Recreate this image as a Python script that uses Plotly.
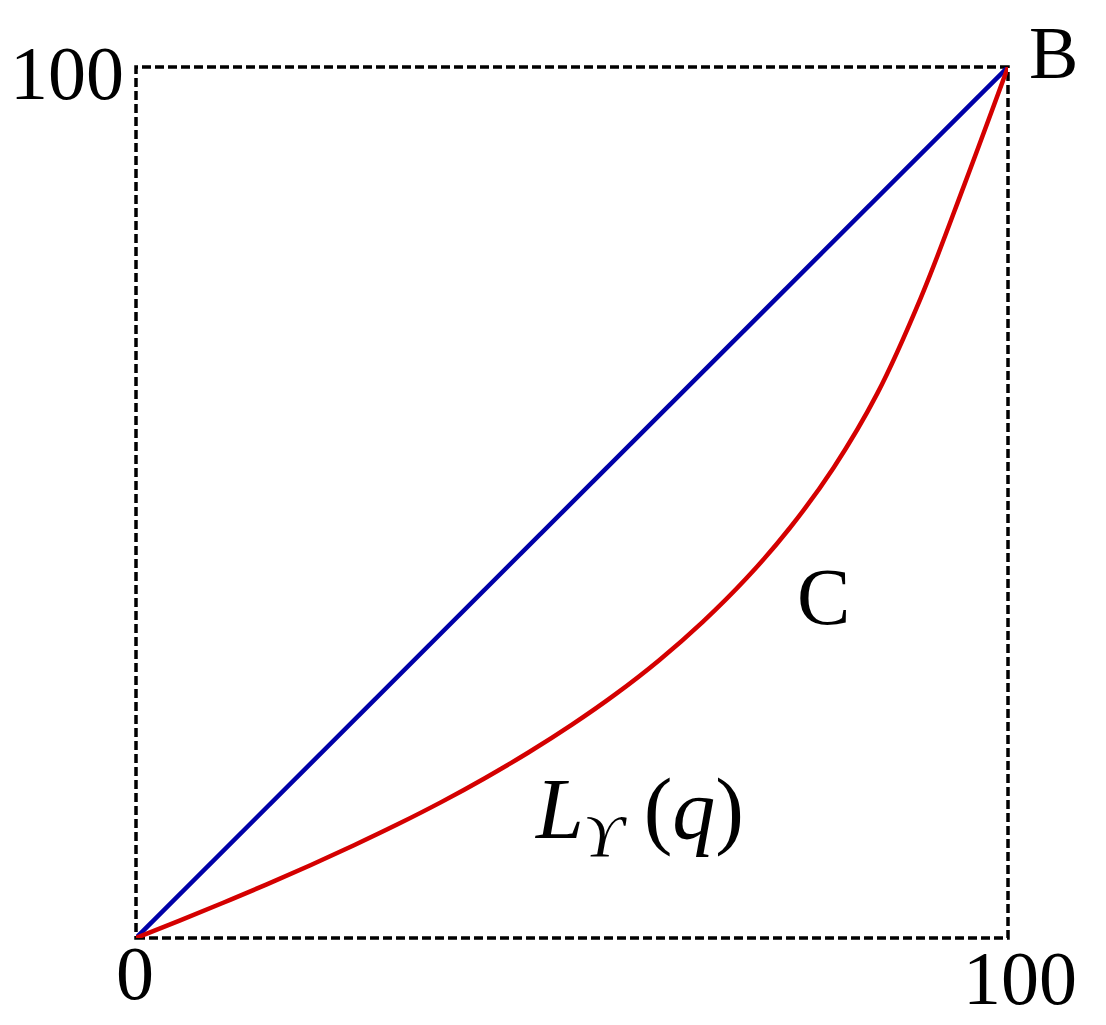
import plotly.graph_objects as go

# Data (percent of population q, cumulative share L_Y(q))
equality_q = [0, 100]
equality_L = [0, 100]

lorenz_q = [0, 5, 10, 15, 20, 25, 30, 35, 40, 45, 50, 55, 60, 65, 70, 75, 80, 85, 90, 95, 100]
lorenz_L = [0, 2.0, 4.05, 6.15, 8.35, 10.65, 13.05, 15.6, 18.35, 21.3, 24.5, 28.0, 31.9,
            36.3, 41.3, 47.1, 54.0, 62.5, 73.5, 86.5, 100]

tick_labels = ["0", "100"]

FONT = "Liberation Serif, Times New Roman, serif"

fig = go.Figure()
fig.add_trace(go.Scatter(x=equality_q, y=equality_L, mode="lines",
                         line=dict(color="#0000a8", width=4.5), showlegend=False,
                         hoverinfo="skip"))
fig.add_trace(go.Scatter(x=lorenz_q, y=lorenz_L, mode="lines",
                         line=dict(color="#d40000", width=4.5, shape="spline", smoothing=1),
                         showlegend=False, hoverinfo="skip"))

fig.add_shape(type="rect", xref="paper", yref="paper", x0=0, y0=0, x1=1, y1=1,
              line=dict(color="black", width=3.5, dash="9px,4px"), layer="below")

# positions in paper coordinates
annos = [
    dict(x=-0.079, y=0.993, text=tick_labels[1], size=76),
    dict(x=-0.001, y=-0.040, text=tick_labels[0], size=76),
    dict(x=1.014, y=-0.046, text=tick_labels[1], size=76),
    dict(x=1.052, y=1.016, text="B", size=74),
    dict(x=0.788, y=0.392, text="C", size=80),
    dict(x=0.577, y=0.141, text="<i>L</i><sub><i>ϒ</i></sub> (<i>q</i>)", size=86),
]
for a in annos:
    fig.add_annotation(x=a["x"], y=a["y"], xref="paper", yref="paper", text=a["text"],
                       showarrow=False, xanchor="center", yanchor="middle",
                       font=dict(family=FONT, size=a["size"], color="black"))

fig.update_xaxes(range=[0, 100], visible=False, showgrid=False, zeroline=False)
fig.update_yaxes(range=[0, 100], visible=False, showgrid=False, zeroline=False)
fig.update_layout(width=1106, height=1025,
                  margin=dict(l=128, r=106, t=59, b=95),
                  plot_bgcolor="white", paper_bgcolor="white")

fig.write_html("out.html")
